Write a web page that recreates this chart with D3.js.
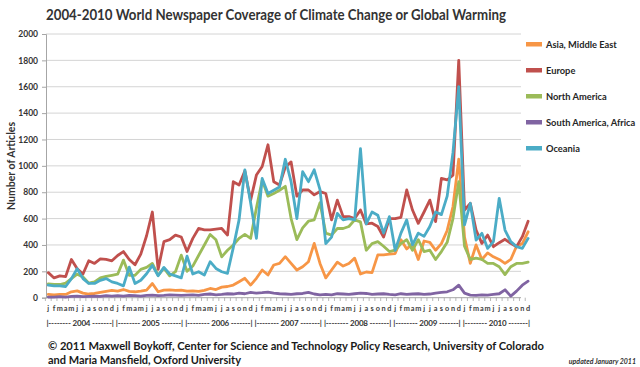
<!DOCTYPE html>
<html>
<head>
<meta charset="utf-8">
<script src="https://cdn.jsdelivr.net/npm/d3@7"></script>
<style>
  body { margin: 0; background: #fff; }
  text { font-family: Lato, "Open Sans", sans-serif; font-weight: bold; }
</style>
</head>
<body>
<script>
// chart values
const years = ["2004", "2005", "2006", "2007", "2008", "2009", "2010"];
const monthLetters = ["j", "f", "m", "a", "m", "j", "j", "a", "s", "o", "n", "d"];
const yTicks = [0, 200, 400, 600, 800, 1000, 1200, 1400, 1600, 1800, 2000];

const asiaMiddleEast = [
  25, 22, 25, 25, 45, 52, 35, 28, 32, 40, 48, 55,
  50, 62, 48, 45, 50, 58, 108, 45, 58, 60, 55, 58,
  50, 52, 48, 55, 70, 62, 80, 85, 96, 121, 147, 96,
  147, 210, 172, 248, 260, 311, 260, 210, 235, 273, 412, 260,
  150, 210, 270, 240, 260, 300, 180, 195, 190, 325, 325, 330,
  335, 440, 370, 410, 290, 430, 420, 360, 410, 510, 690, 1050,
  460, 260, 400, 290, 340, 310, 290, 260, 290, 390, 410, 500
];
const europe = [
  190, 150, 165, 160, 290, 220, 180, 280, 260, 295, 290, 280,
  320, 350, 290, 250, 330, 470, 650, 215, 425, 440, 475, 460,
  350, 450, 525, 515, 515, 520, 525, 475, 880, 855, 960, 740,
  930, 995, 1160, 880, 855, 990, 1030, 770, 817, 817, 780, 805,
  790, 590, 740, 615, 615, 600, 665, 560, 565, 540, 460, 600,
  600, 610, 817, 665, 564, 650, 740, 577, 905, 893, 930, 1800,
  665, 716, 513, 412, 475, 387, 417, 443, 412, 387, 463, 580
];
const northAmerica = [
  105, 100, 100, 110, 145, 178, 158, 110, 120, 150, 162, 170,
  178, 285, 170, 170, 215, 230, 260, 170, 224, 166, 197, 323,
  200, 240, 320, 400, 480, 440, 310, 360, 400, 450, 480, 450,
  680, 890, 770, 790, 815, 845, 600, 440, 530, 580, 590, 720,
  490, 475, 525, 525, 540, 590, 575, 360, 410, 425, 390, 350,
  360, 410, 440, 360, 440, 350, 360, 290, 350, 420, 600, 880,
  390, 290, 300, 290, 260, 260, 235, 175, 235, 260, 260, 270
];
const southAmericaAfrica = [
  5, 5, 8, 5, 10, 12, 8, 10, 12, 10, 15, 12,
  15, 12, 18, 15, 12, 18, 20, 15, 18, 22, 20, 18,
  20, 22, 18, 25, 28, 22, 25, 30, 28, 35, 30, 40,
  35, 38, 42, 35, 30, 28, 25, 30, 32, 40, 28, 22,
  25, 22, 30, 28, 25, 30, 35, 32, 25, 28, 30, 25,
  22, 30, 25, 28, 30, 25, 28, 35, 40, 45, 60, 95,
  35, 20, 18, 22, 20, 25, 30, 60, 12, 50, 95, 125
];
const oceania = [
  95, 90, 90, 85, 145, 220, 145, 108, 108, 132, 145, 120,
  108, 90, 232, 108, 132, 182, 245, 166, 230, 180, 165, 150,
  315, 180, 197, 172, 273, 222, 197, 185, 380, 590, 970, 720,
  450, 905, 790, 815, 840, 1050, 880, 600, 956, 880, 970, 820,
  410, 460, 640, 590, 600, 590, 1130, 560, 650, 625, 490, 615,
  360, 490, 590, 400, 490, 465, 540, 650, 630, 770, 1100, 1600,
  552, 716, 437, 488, 374, 425, 754, 513, 425, 387, 374, 450
];

const seriesNames = ["Asia, Middle East", "Europe", "North America", "South America, Africa", "Oceania"];
const seriesValues = [asiaMiddleEast, europe, northAmerica, southAmericaAfrica, oceania];
const seriesColors = ["#f79646", "#c0504d", "#9bbb59", "#8064a2", "#4bacc6"];

const months = years.flatMap(y => monthLetters.map((m, i) => y + "-" + i));

const width = 640, height = 367;
const svg = d3.select("body").append("svg")
    .attr("width", width)
    .attr("height", height);

const x = d3.scaleBand()
    .domain(months)
    .range([45.4, 531])
    .padding(0);

const y = d3.scaleLinear()
    .domain([0, 2000])
    .range([297.7, 34]);

const gridRight = 521;

// title
svg.append("text")
    .attr("x", 46).attr("y", 20)
    .attr("font-size", 15)
    .attr("textLength", 460)
    .attr("lengthAdjust", "spacingAndGlyphs")
    .attr("fill", "#333")
    .text("2004-2010 World Newspaper Coverage of Climate Change or Global Warming");

// gridlines
svg.append("g")
    .selectAll("line")
    .data(yTicks.filter(d => d > 0))
    .enter().append("line")
    .attr("x1", 46).attr("x2", gridRight)
    .attr("y1", d => y(d)).attr("y2", d => y(d))
    .attr("stroke", "#d4d4d4")
    .attr("stroke-width", 1);

// y axis
const yAxis = svg.append("g")
    .attr("transform", "translate(46,0)")
    .call(d3.axisLeft(y).tickValues(yTicks).tickFormat(d3.format("d")).tickSize(4).tickPadding(4));
yAxis.select(".domain").attr("stroke", "#a6a6a6");
yAxis.selectAll(".tick line").attr("stroke", "#a6a6a6");
yAxis.selectAll(".tick text")
    .attr("font-size", 8.5)
    .attr("font-family", "Lato, sans-serif")
    .attr("font-weight", "bold")
    .attr("fill", "#333");

svg.append("text")
    .attr("transform", "translate(15,166) rotate(-90)")
    .attr("text-anchor", "middle")
    .attr("font-size", 10.5)
    .attr("fill", "#333")
    .text("Number of Articles");

// x axis: month letters
const xAxis = svg.append("g")
    .attr("transform", "translate(0,297.7)")
    .call(d3.axisBottom(x).tickSize(0).tickPadding(8)
        .tickFormat(d => monthLetters[+d.split("-")[1]]));
xAxis.select(".domain").attr("stroke", "#a6a6a6").attr("d", "M46,0H" + gridRight);
xAxis.selectAll(".tick text")
    .attr("font-size", 7.3)
    .attr("font-family", "Lato, sans-serif")
    .attr("font-weight", "bold")
    .attr("fill", "#404040");

// small category ticks between months
svg.append("g")
    .selectAll("line")
    .data(months)
    .enter().append("line")
    .attr("x1", d => x(d)).attr("x2", d => x(d))
    .attr("y1", 297.7).attr("y2", 301)
    .attr("stroke", "#a6a6a6")
    .attr("stroke-width", 0.8);

// year labels
svg.append("g")
    .selectAll("text")
    .data(years)
    .enter().append("text")
    .attr("x", d => x(d + "-0") + 1)
    .attr("y", 326)
    .attr("font-size", 8)
    .attr("textLength", x.bandwidth() * 12 - 2)
    .attr("lengthAdjust", "spacing")
    .attr("fill", "#333")
    .text(d => "|-------- " + d + " -------|");

// lines
const line = d3.line()
    .x((d, i) => x(months[i]) + x.bandwidth() / 2)
    .y(d => y(d));

svg.append("g")
    .selectAll("path")
    .data(seriesValues)
    .enter().append("path")
    .attr("d", line)
    .attr("fill", "none")
    .attr("stroke", (d, i) => seriesColors[i])
    .attr("stroke-width", 2.8)
    .attr("stroke-linejoin", "round")
    .attr("stroke-linecap", "round");

// legend
const legend = svg.append("g")
    .selectAll("g")
    .data(seriesNames)
    .enter().append("g")
    .attr("transform", (d, i) => "translate(526," + (44 + i * 26) + ")");
legend.append("rect")
    .attr("x", 0).attr("y", -2)
    .attr("width", 16).attr("height", 4.5)
    .attr("fill", (d, i) => seriesColors[i]);
legend.append("text")
    .attr("x", 20).attr("y", 3.5)
    .attr("font-size", 9.3)
    .attr("fill", "#262626")
    .text(d => d);

// footer
svg.append("text")
    .attr("x", 48).attr("y", 350)
    .attr("font-size", 11.5)
    .attr("textLength", 496)
    .attr("lengthAdjust", "spacingAndGlyphs")
    .attr("fill", "#1a1a1a")
    .text("\u00a9 2011 Maxwell Boykoff, Center for Science and Technology Policy Research, University of Colorado");
svg.append("text")
    .attr("x", 48).attr("y", 364)
    .attr("font-size", 11.5)
    .attr("textLength", 193)
    .attr("lengthAdjust", "spacingAndGlyphs")
    .attr("fill", "#1a1a1a")
    .text("and Maria Mansfield, Oxford University");
svg.append("text")
    .attr("x", 636).attr("y", 364)
    .attr("text-anchor", "end")
    .attr("font-size", 7)
    .attr("font-style", "italic")
    .attr("fill", "#333")
    .text("updated January 2011");
</script>
</body>
</html>
